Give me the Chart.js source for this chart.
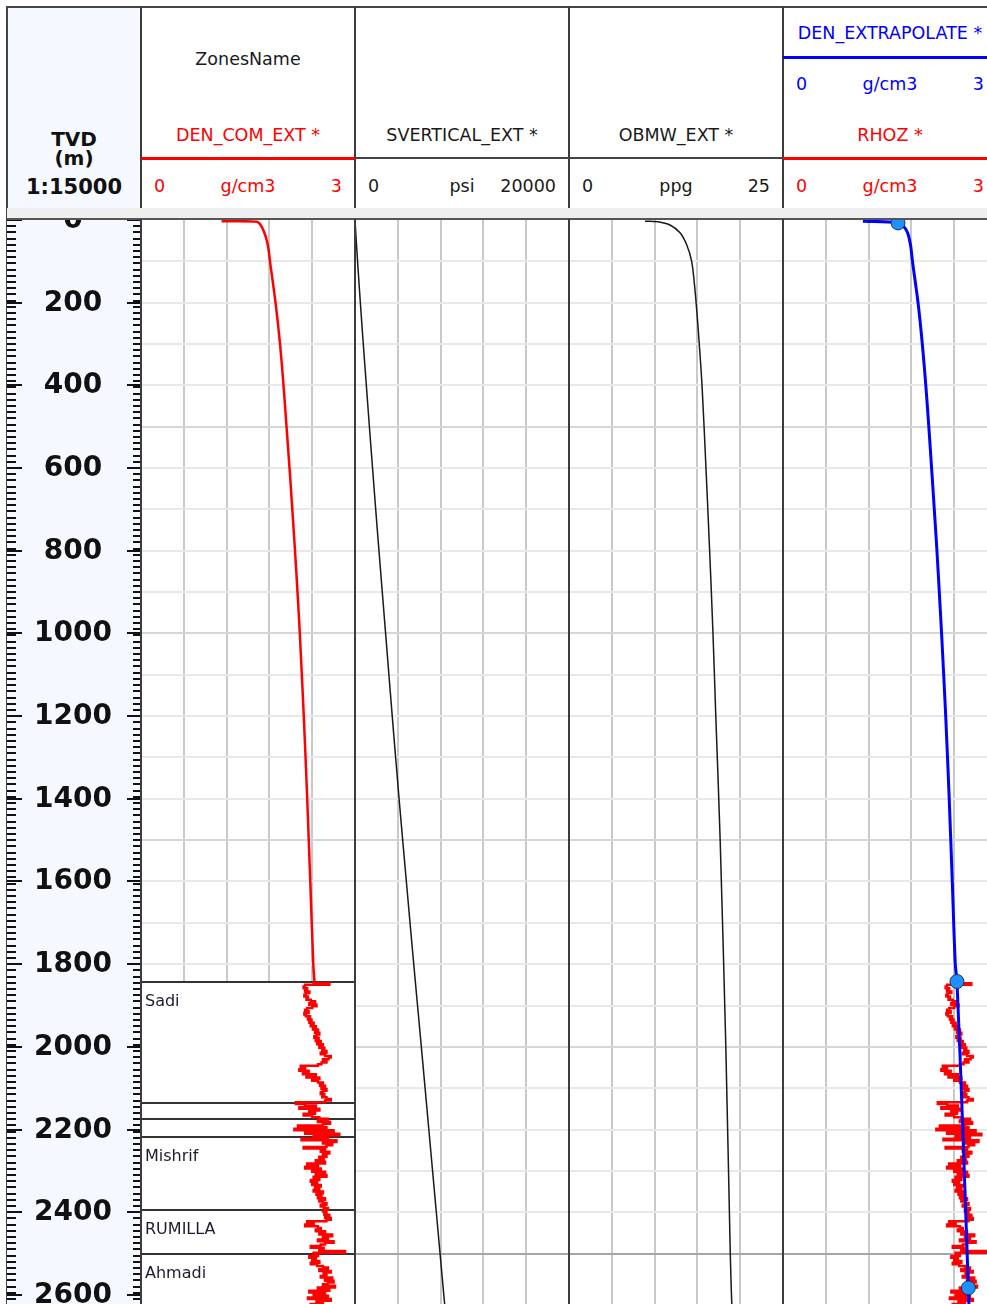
<!DOCTYPE html>
<html>
<head>
<meta charset="utf-8">
<script src="https://cdn.jsdelivr.net/npm/chart.js@4.4.0/dist/chart.umd.min.js"></script>
<style>
  html, body { margin: 0; padding: 0; overflow: hidden; background: #fff; }
  body { width: 987px; height: 1304px; position: relative; font-family: "DejaVu Sans", sans-serif; }
  canvas { position: absolute; }
</style>
</head>
<body>
<script>
// ---- depth axis ----
var depthMin = 0, depthMax = 2622;
var depthLabels = [0, 200, 400, 600, 800, 1000, 1200, 1400, 1600, 1800, 2000, 2200, 2400, 2600];
var minorTickStep = 15;

// ---- zones (ZonesName) ----
var zoneTops = [1842, 2135, 2174, 2219, 2395, 2502];
var zoneNames = ['Sadi', '', '', 'Mishrif', 'RUMILLA', 'Ahmadi'];

// ---- track headers ----
var trackNames = ['DEN_COM_EXT *', 'SVERTICAL_EXT *', 'OBMW_EXT *', 'RHOZ *'];
var trackUnits = ['g/cm3', 'psi', 'ppg', 'g/cm3'];
var trackMin = [0, 0, 0, 0];
var trackMax = [3, 20000, 25, 3];

// ---- DEN_COM_EXT, compaction trend above the logged interval (g/cm3) ----
var denComDepth = [3, 4, 10, 20, 35, 50, 70, 100, 200, 300, 400, 500, 600, 700, 800, 900, 1000, 1200, 1400, 1600, 1800, 1842];
var denComValue = [1.13, 1.626, 1.668, 1.703, 1.738, 1.764, 1.787, 1.808, 1.886, 1.949, 1.998, 2.040, 2.082, 2.121,
                   2.159, 2.194, 2.226, 2.282, 2.330, 2.373, 2.415, 2.432];

// ---- RHOZ measured density (g/cm3), sampled every 4 m from 1842 m ----
var rhozTop = 1842, rhozStep = 4;
var rhozValue = [
  2.42, 2.64, 2.30, 2.28, 2.33, 2.30, 2.36, 2.31, 2.29, 2.34,
  2.32, 2.38, 2.44, 2.36, 2.46, 2.40, 2.33, 2.30, 2.35, 2.29,
  2.31, 2.37, 2.34, 2.39, 2.36, 2.42, 2.38, 2.45, 2.41, 2.48,
  2.44, 2.50, 2.46, 2.43, 2.49, 2.45, 2.52, 2.47, 2.55, 2.50,
  2.57, 2.54, 2.60, 2.52, 2.58, 2.66, 2.63, 2.55, 2.60, 2.53,
  2.48, 2.24, 2.30, 2.22, 2.35, 2.27, 2.45, 2.32, 2.50, 2.40,
  2.48, 2.55, 2.51, 2.58, 2.53, 2.60, 2.55, 2.52, 2.57, 2.54,
  2.60, 2.66, 2.58, 2.17, 2.30, 2.45, 2.22, 2.50, 2.36, 2.44,
  2.28, 2.40, 2.50, 2.62, 2.48, 2.65, 2.55, 2.20, 2.60, 2.15,
  2.70, 2.30, 2.78, 2.42, 2.62, 2.25, 2.74, 2.55, 2.68, 2.60,
  2.28, 2.58, 2.52, 2.64, 2.55, 2.60, 2.50, 2.56, 2.45, 2.58,
  2.33, 2.48, 2.30, 2.52, 2.40, 2.58, 2.45, 2.60, 2.42, 2.50,
  2.38, 2.47, 2.40, 2.52, 2.44, 2.50, 2.42, 2.55, 2.46, 2.53,
  2.48, 2.58, 2.50, 2.55, 2.60, 2.52, 2.57, 2.62, 2.55, 2.60,
  2.57, 2.64, 2.58, 2.66, 2.60, 2.33, 2.42, 2.30, 2.48, 2.52,
  2.45, 2.58, 2.50, 2.68, 2.55, 2.62, 2.48, 2.70, 2.58, 2.52,
  2.38, 2.56, 2.50, 2.86, 2.42, 2.48, 2.36, 2.45, 2.40, 2.50,
  2.38, 2.47, 2.55, 2.62, 2.50, 2.66, 2.56, 2.60, 2.52, 2.68,
  2.58, 2.70, 2.62, 2.55, 2.72, 2.48, 2.64, 2.36, 2.58, 2.42,
  2.62, 2.34, 2.66, 2.46, 2.55, 2.38, 2.60
];

// ---- SVERTICAL_EXT (psi) ----
var svDepth = [0, 100, 200, 300, 400, 500, 600, 700, 800, 900, 1000, 1200, 1400, 1600, 1800, 2000, 2200, 2400, 2600, 2622];
var svValue = [0, 240, 500, 775, 1060, 1345, 1640, 1935, 2240, 2550, 2860, 3480, 4120, 4800, 5490, 6200, 6900, 7600, 8300, 8380];

// ---- OBMW_EXT (ppg) ----
var obmwDepth = [3, 4, 12, 31, 60, 100, 170, 266, 400, 600, 800, 1000, 1200, 1500, 2000, 2500, 2600, 2622];
var obmwValue = [8.88, 10.40, 11.80, 12.97, 13.75, 14.33, 14.72, 15.10, 15.54, 16.00, 16.43, 16.82, 17.15, 17.66,
                 18.32, 18.84, 18.98, 19.02];

// ---- DEN_EXTRAPOLATE (g/cm3) and its anchor points ----
var denExtDepth = [3, 6, 15, 30, 60, 100, 200, 300, 400, 500, 600, 700, 800, 900, 1000, 1200, 1400, 1600, 1800, 1842,
                   2193, 2583, 2622];
var denExtValue = [1.12, 1.612, 1.689, 1.745, 1.787, 1.815, 1.893, 1.953, 2.002, 2.044, 2.083, 2.121, 2.158, 2.191,
                   2.223, 2.281, 2.330, 2.373, 2.415, 2.439, 2.519, 2.598, 2.606];
var anchorDepth = [7, 1842, 2583];
var anchorValue = [1.612, 2.439, 2.598];

// ---------------------------------------------------------------
var TW = 214, PLOT_TOP = 220, PLOT_H = 1084;
var trackX = [141, 355, 569, 783];
var RED = '#ff0000', BLUE = '#0000ff', INK = '#1a1a1a';

function pts(depths, values) {
  return depths.map(function (d, i) { return { x: values[i], y: d }; });
}
var rhozPts = rhozValue.map(function (v, i) { return { x: v, y: rhozTop + i * rhozStep }; });

function addDiv(css) {
  var d = document.createElement('div');
  d.style.cssText = 'position:absolute;' + css;
  document.body.appendChild(d);
  return d;
}
function addText(txt, x, y, align, color, font) {
  var tx = align === 'center' ? '-50%' : (align === 'right' ? '-100%' : '0');
  var d = addDiv('left:' + x + 'px;top:' + y + 'px;color:' + color + ';font:' + font +
    ';white-space:nowrap;line-height:1;transform:translate(' + tx + ',-50%)');
  d.textContent = txt;
}

// header frame
addDiv('left:7px;top:7px;width:134px;height:201px;background:#f5f9ff');
addDiv('left:7px;top:6px;width:980px;height:2px;background:#444');
addDiv('left:6px;top:6px;width:2px;height:1298px;background:#444');
trackX.forEach(function (x) {
  addDiv('left:' + (x - 1) + 'px;top:6px;width:2px;height:202px;background:#3c3c3c');
});
addDiv('left:7px;top:208px;width:980px;height:11px;background:#efefef');
addDiv('left:7px;top:218px;width:980px;height:2px;background:#555');

// header lines
addDiv('left:141px;top:157px;width:214px;height:3px;background:' + RED);
addDiv('left:355px;top:157px;width:428px;height:2px;background:#444');
addDiv('left:783px;top:157px;width:204px;height:3px;background:' + RED);
addDiv('left:783px;top:56px;width:204px;height:3px;background:' + BLUE);

// header texts
var hf = '17.5px "DejaVu Sans", sans-serif';
addText('TVD', 74, 139, 'center', '#111', 'bold 20px "DejaVu Sans", sans-serif');
addText('(m)', 74, 158, 'center', '#111', 'bold 20px "DejaVu Sans", sans-serif');
addText('1:15000', 74, 187, 'center', '#111', 'bold 21px "DejaVu Sans", sans-serif');
addText('ZonesName', trackX[0] + TW / 2, 60, 'center', INK, hf);
var headColors = [RED, INK, INK, RED];
trackNames.forEach(function (n, i) {
  var cx = trackX[i] + TW / 2, c = headColors[i];
  addText(n, cx, 136, 'center', c, hf);
  addText(String(trackMin[i]), trackX[i] + 13, 187, 'left', c, hf);
  addText(trackUnits[i], cx, 187, 'center', c, hf);
  addText(String(trackMax[i]), trackX[i] + TW - 13, 187, 'right', c, hf);
});
addText('DEN_EXTRAPOLATE *', trackX[3] + TW / 2, 34, 'center', BLUE, hf);
addText('0', trackX[3] + 13, 85, 'left', BLUE, hf);
addText('g/cm3', trackX[3] + TW / 2, 85, 'center', BLUE, hf);
addText('3', trackX[3] + TW - 13, 85, 'right', BLUE, hf);

// ---------------------------------------------------------------
function makeCanvas(left, width, bg) {
  var cv = document.createElement('canvas');
  cv.width = width; cv.height = PLOT_H;
  cv.style.left = left + 'px'; cv.style.top = PLOT_TOP + 'px';
  cv.style.width = width + 'px'; cv.style.height = PLOT_H + 'px';
  if (bg) cv.style.background = bg;
  document.body.appendChild(cv);
  return cv;
}

function yGridColor(ctx) {
  var v = ctx.tick.value;
  if (v % 100 !== 0 || v === 0) return 'rgba(0,0,0,0)';
  if (v === 2500) return '#a6a6a6';
  if (v % 500 === 0) return '#d6d6d6';
  return '#e8e8e8';
}

function makeTrack(i, datasets, plugins) {
  var cv = makeCanvas(trackX[i], TW);
  var xmin = trackMin[i], xmax = trackMax[i];
  return new Chart(cv, {
    type: 'scatter',
    data: { datasets: datasets },
    options: {
      responsive: false, animation: false, events: [],
      layout: { padding: 0, autoPadding: false },
      plugins: { legend: { display: false }, tooltip: { enabled: false } },
      scales: {
        x: {
          type: 'linear', min: xmin, max: xmax,
          ticks: { display: false, stepSize: (xmax - xmin) / 5 },
          border: { display: false },
          grid: {
            drawTicks: false, lineWidth: 2,
            color: function (c) {
              var v = c.tick.value;
              return (Math.abs(v - xmin) < 1e-9 || Math.abs(v - xmax) < 1e-9) ? 'rgba(0,0,0,0)' : '#c9c9c9';
            }
          }
        },
        y: {
          type: 'linear', reverse: true, min: depthMin, max: depthMax,
          ticks: { display: false, stepSize: 100 },
          border: { display: false },
          grid: { drawTicks: false, lineWidth: 2, color: yGridColor }
        }
      }
    },
    plugins: plugins || []
  });
}

function curve(data, color, width, extra) {
  var ds = {
    data: data, showLine: true, borderColor: color, backgroundColor: color,
    borderWidth: width, pointRadius: 0, tension: 0, fill: false
  };
  for (var k in extra) ds[k] = extra[k];
  return ds;
}

// zones drawn over the grid in track 1
var zonesPlugin = {
  id: 'zones',
  beforeDatasetsDraw: function (chart) {
    var ctx = chart.ctx, y = chart.scales.y, a = chart.chartArea;
    ctx.save();
    ctx.fillStyle = '#ffffff';
    var top = y.getPixelForValue(zoneTops[0]);
    ctx.fillRect(a.left, top, a.right - a.left, a.bottom - top);
    ctx.strokeStyle = '#333';
    ctx.lineWidth = 2;
    ctx.font = '16px "DejaVu Sans", sans-serif';
    ctx.fillStyle = '#1c1c2e';
    ctx.textBaseline = 'middle';
    zoneTops.forEach(function (d, k) {
      var py = Math.round(y.getPixelForValue(d));
      ctx.beginPath();
      ctx.moveTo(a.left, py); ctx.lineTo(a.right, py);
      ctx.stroke();
      if (zoneNames[k]) ctx.fillText(zoneNames[k], a.left + 4, py + 20);
    });
    ctx.restore();
  }
};

// depth track: ticks and labels from the y scale
var depthPlugin = {
  id: 'depthTrack',
  afterDraw: function (chart) {
    var ctx = chart.ctx, y = chart.scales.y, w = chart.width;
    ctx.save();
    ctx.fillStyle = '#111';
    for (var d = depthMin; d <= depthMax; d += minorTickStep) {
      var py = Math.round(y.getPixelForValue(d));
      ctx.fillRect(0, py - 1, 9, 2);
      ctx.fillRect(w - 8, py - 1, 8, 2);
    }
    ctx.font = 'bold 28px "DejaVu Sans", sans-serif';
    ctx.textAlign = 'center';
    ctx.textBaseline = 'middle';
    depthLabels.forEach(function (d) {
      var py = Math.round(y.getPixelForValue(d));
      ctx.fillRect(0, py - 1, 15, 2);
      ctx.fillRect(w - 14, py - 1, 14, 2);
      ctx.fillText(String(d), 66, py + 1);
    });
    ctx.restore();
  }
};

new Chart(makeCanvas(7, 134, '#f5f9ff'), {
  type: 'scatter',
  data: { datasets: [] },
  options: {
    responsive: false, animation: false, events: [],
    layout: { padding: 0, autoPadding: false },
    plugins: { legend: { display: false }, tooltip: { enabled: false } },
    scales: {
      x: { display: false, min: 0, max: 1 },
      y: { display: false, type: 'linear', reverse: true, min: depthMin, max: depthMax }
    }
  },
  plugins: [depthPlugin]
});

makeTrack(0, [
  curve(pts(denComDepth, denComValue), RED, 2.5, { tension: 0.3 }),
  curve(rhozPts, RED, 2.5, { stepped: 'after' })
], [zonesPlugin]);

makeTrack(1, [curve(pts(svDepth, svValue), INK, 1.5, { tension: 0.3 })]);

makeTrack(2, [curve(pts(obmwDepth, obmwValue), INK, 1.5, { tension: 0.3 })]);

makeTrack(3, [
  { data: pts(anchorDepth, anchorValue), showLine: false, pointRadius: 7, pointBackgroundColor: '#1e90ff',
    pointBorderColor: '#1b3550', pointBorderWidth: 1, order: 0, clip: false },
  curve(pts(denExtDepth, denExtValue), BLUE, 3, { order: 1, tension: 0.3 }),
  curve(rhozPts, RED, 2.5, { stepped: 'after', order: 2 })
]);

// vertical track dividers over the plot area
trackX.forEach(function (x) {
  addDiv('left:' + (x - 1) + 'px;top:219px;width:2px;height:1085px;background:#3c3c3c');
});
</script>
</body>
</html>
